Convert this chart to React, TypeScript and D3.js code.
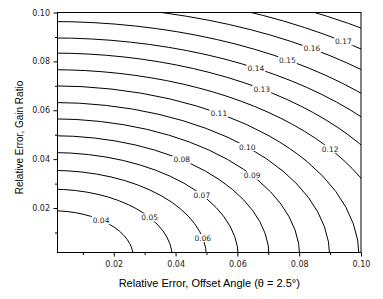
import React, { useEffect, useRef } from 'react';
import * as d3 from 'd3';

// contour levels and their quarter-ellipse intercepts
const levels = [0.04, 0.05, 0.06, 0.07, 0.08, 0.09, 0.10, 0.11, 0.12, 0.13, 0.14, 0.15, 0.16, 0.17, 0.18];
const xIntercepts = [0.0263, 0.0389, 0.05, 0.0603, 0.0703, 0.0802, 0.0899, 0.0994, 0.1102, 0.1197, 0.1302, 0.1392, 0.15, 0.1591, 0.1727];
const yIntercepts = [0.0189, 0.0277, 0.0354, 0.0427, 0.0496, 0.0565, 0.0632, 0.07, 0.0766, 0.0834, 0.0896, 0.0963, 0.1029, 0.1094, 0.1149];
// where along x each contour carries its label (null = unlabeled)
const labelX = [0.0159, 0.0316, 0.0488, 0.0485, 0.042, 0.0648, 0.0632, 0.054, 0.09, 0.0679, 0.066, 0.0762, 0.0841, 0.0943, null];

const majorTicks = [0.02, 0.04, 0.06, 0.08, 0.10];
const minorTicks = [0.01, 0.03, 0.05, 0.07, 0.09];
const axisDomain = [0.0018, 0.1];

const xTitle = 'Relative Error, Offset Angle (\u03b8 = 2.5\u00b0)';
const yTitle = 'Relative Error, Gain Ratio';

export default function App() {
    const svgRef = useRef<SVGSVGElement>(null);

    useEffect(() => {
        const svg = d3.select(svgRef.current);
        svg.selectAll('*').remove();

        const W = 383, H = 299;
        const left = 57.5, right = 361, top = 12.5, bottom = 252.5;

        svg.attr('width', W).attr('height', H);
        svg.append('rect').attr('width', W).attr('height', H).attr('fill', '#fff');

        const x = d3.scaleLinear().domain(axisDomain).range([left, right]);
        const y = d3.scaleLinear().domain(axisDomain).range([bottom, top]);

        svg.append('clipPath').attr('id', 'plot-clip')
            .append('rect')
            .attr('x', left).attr('y', top)
            .attr('width', right - left).attr('height', bottom - top);

        // ---- Contours (quarter ellipses about the origin)
        const contours = svg.append('g').attr('clip-path', 'url(#plot-clip)');
        levels.forEach((lv, i) => {
            const a = xIntercepts[i], b = yIntercepts[i];
            const rx = x(a) - x(0), ry = y(0) - y(b);
            contours.append('path')
                .attr('d', `M${x(a)},${y(0)} A${rx},${ry} 0 0 0 ${x(0)},${y(b)}`)
                .attr('fill', 'none')
                .attr('stroke', '#000')
                .attr('stroke-width', 1);
        });

        // ---- Contour labels
        const labels = svg.append('g')
            .style('font-family', '"DejaVu Sans", Verdana, sans-serif')
            .style('font-size', '7.5px');
        levels.forEach((lv, i) => {
            const lx = labelX[i];
            if (lx == null) return;
            const a = xIntercepts[i], b = yIntercepts[i];
            const ly = b * Math.sqrt(Math.max(0, 1 - (lx / a) ** 2));
            const cx = x(lx), cy = y(ly);
            const bg = labels.append('rect').attr('fill', '#fff');
            const t = labels.append('text')
                .attr('x', cx).attr('y', cy).attr('dy', '0.36em')
                .attr('text-anchor', 'middle')
                .attr('fill', '#222')
                .text(d3.format('.2f')(lv));
            const w = (t.node() as SVGTextElement).getComputedTextLength();
            bg.attr('x', cx - w / 2 - 1).attr('y', cy - 4)
                .attr('width', w + 2).attr('height', 8);
        });

        // ---- Frame
        svg.append('rect')
            .attr('x', left).attr('y', top)
            .attr('width', right - left).attr('height', bottom - top)
            .attr('fill', 'none').attr('stroke', '#000').attr('stroke-width', 1);

        // ---- Axes
        const tickFont = (g) => g.selectAll('text')
            .style('font-family', '"DejaVu Sans", Verdana, sans-serif')
            .style('font-size', '8px')
            .attr('fill', '#222');

        const xAxis = svg.append('g').attr('transform', `translate(0,${bottom})`);
        xAxis.append('g').call(d3.axisBottom(x).tickValues(minorTicks).tickSize(2.5).tickFormat(() => ''));
        xAxis.append('g').call(d3.axisBottom(x).tickValues(majorTicks).tickSize(4).tickPadding(5.2)
            .tickFormat(d3.format('.2f'))).call(tickFont);

        const yAxis = svg.append('g').attr('transform', `translate(${left},0)`);
        yAxis.append('g').call(d3.axisLeft(y).tickValues(minorTicks).tickSize(2.5).tickFormat(() => ''));
        yAxis.append('g').call(d3.axisLeft(y).tickValues(majorTicks).tickSize(4).tickPadding(3.5)
            .tickFormat(d3.format('.2f'))).call(tickFont);

        svg.selectAll('.domain').remove();

        // Axis titles
        svg.append('text')
            .attr('x', (left + right) / 2)
            .attr('y', 286.5)
            .attr('text-anchor', 'middle')
            .style('font-family', '"Liberation Sans", Arial, sans-serif')
            .style('font-size', '11px')
            .text(xTitle);

        svg.append('text')
            .attr('transform', 'translate(23,137.5) rotate(-90)')
            .attr('text-anchor', 'middle')
            .style('font-family', '"Liberation Sans", Arial, sans-serif')
            .style('font-size', '10px')
            .text(yTitle);
    }, []);

    return (
        <div style={{ position: 'absolute', left: 0, top: 0 }}>
            <svg ref={svgRef} style={{ display: 'block' }} />
        </div>
    );
}
